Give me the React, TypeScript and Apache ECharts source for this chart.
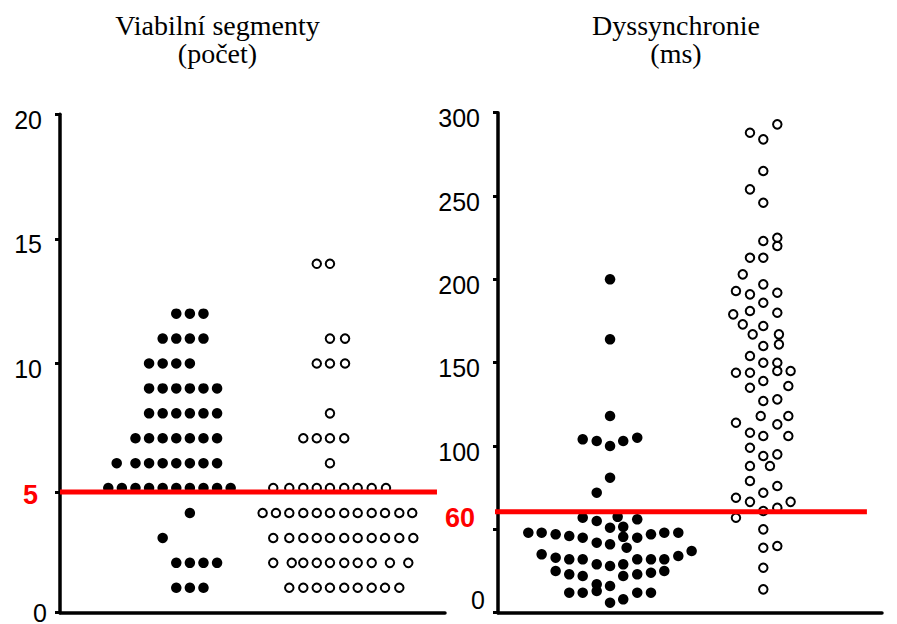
import React, { useEffect, useRef } from "react";
import * as echarts from "echarts";

// ---- data (x = horizontal jitter slot, y = value) ----
const leftTitle = "Viabilní segmenty\n(počet)";
const rightTitle = "Dyssynchronie\n(ms)";

const leftTicks = [0, 10, 15, 20];
const rightTicks = [0, 100, 150, 200, 250, 300];
const leftThreshold = 4.84;
const rightThreshold = 60.5;
const leftThresholdLabel = "5";
const rightThresholdLabel = "60";

const leftFilled: number[][] = [
  [8.55, 12], [9.55, 12], [10.55, 12],
  [7.55, 11], [8.55, 11], [9.55, 11], [10.55, 11],
  [6.55, 10], [7.55, 10], [8.55, 10], [9.55, 10],
  [6.55, 9], [7.55, 9], [8.55, 9], [9.55, 9], [10.55, 9], [11.55, 9],
  [6.55, 8], [7.55, 8], [8.55, 8], [9.55, 8], [10.55, 8], [11.55, 8],
  [5.55, 7], [6.55, 7], [7.55, 7], [8.55, 7], [9.55, 7], [10.55, 7], [11.55, 7],
  [4.17, 6], [5.55, 6], [6.55, 6], [7.55, 6], [8.55, 6], [9.55, 6], [10.55, 6], [11.55, 6],
  [3.55, 5], [4.55, 5], [5.55, 5], [6.55, 5], [7.55, 5], [8.55, 5], [9.55, 5], [10.55, 5], [11.55, 5], [12.55, 5],
  [9.55, 4],
  [7.55, 3],
  [8.55, 2], [9.55, 2], [10.55, 2], [11.55, 2],
  [8.55, 1], [9.55, 1], [10.55, 1],
];

const leftOpen: number[][] = [
  [18.88, 14], [19.85, 14],
  [19.85, 11], [20.96, 11],
  [18.88, 10], [19.85, 10], [20.96, 10],
  [19.85, 8],
  [17.89, 7], [18.88, 7], [19.85, 7], [20.9, 7],
  [19.85, 6],
  [15.68, 5], [16.86, 5], [17.89, 5], [18.88, 5], [19.85, 5], [20.9, 5], [21.89, 5], [22.92, 5], [23.97, 5],
  [14.9, 4], [15.88, 4], [16.86, 4], [17.89, 4], [18.88, 4], [19.85, 4], [20.9, 4], [21.89, 4], [22.92, 4], [23.9, 4], [24.95, 4], [25.9, 4],
  [15.68, 3], [16.86, 3], [17.89, 3], [18.88, 3], [19.85, 3], [20.9, 3], [21.89, 3], [22.92, 3], [23.9, 3], [24.95, 3], [25.98, 3],
  [15.68, 2], [17.04, 2], [17.89, 2], [18.88, 2], [19.85, 2], [20.9, 2], [21.89, 2], [22.92, 2], [24.26, 2], [25.61, 2],
  [16.86, 1], [17.89, 1], [18.88, 1], [19.85, 1], [20.9, 1], [21.89, 1], [22.92, 1], [23.9, 1], [24.95, 1],
];

const rightFilled: number[][] = [
  [8.24, 200], [8.24, 164], [8.24, 118],
  [6.23, 104], [7.26, 103], [8.24, 100], [9.21, 103], [10.24, 105],
  [8.24, 81], [7.26, 72],
  [6.23, 57], [7.26, 55], [8.8, 57.5], [10.24, 56],
  [8.24, 51], [9.21, 51.5],
  [2.23, 48], [3.21, 48], [4.24, 47], [5.24, 46], [6.23, 45], [9.21, 45.5], [10.24, 45], [11.25, 47], [12.23, 48], [13.26, 48],
  [7.26, 42], [8.24, 41], [9.46, 39],
  [3.21, 35], [4.24, 33], [5.24, 32], [6.23, 32], [7.26, 29], [8.24, 28], [9.21, 29], [10.24, 32], [11.25, 32], [12.23, 32], [13.26, 34], [14.24, 37],
  [4.24, 25], [5.24, 23], [6.23, 22], [9.21, 22], [10.24, 23], [11.25, 24], [12.23, 25],
  [7.26, 17], [8.24, 16],
  [5.24, 12], [6.23, 12], [7.26, 13], [10.24, 12], [11.25, 12],
  [8.24, 6], [9.21, 8],
];

const rightOpen: number[][] = [
  [20.54, 293], [18.53, 288], [19.51, 284],
  [19.51, 265], [18.53, 254], [19.51, 246],
  [19.51, 223], [20.54, 225], [20.54, 220],
  [18.53, 213], [19.51, 213],
  [18.0, 203],
  [19.51, 197], [17.5, 193], [18.53, 191], [20.54, 192],
  [19.51, 186], [18.53, 181], [17.3, 179], [20.54, 180],
  [18.0, 173], [19.51, 172], [18.73, 167], [20.66, 167],
  [19.51, 160], [20.66, 161],
  [18.53, 154], [19.51, 150], [20.54, 150],
  [17.5, 144], [18.53, 144], [20.54, 145], [21.52, 145],
  [19.51, 139], [18.53, 135], [21.35, 136],
  [19.51, 127], [20.54, 128],
  [19.32, 118], [21.35, 118], [17.5, 114], [20.54, 113],
  [18.53, 108], [19.51, 106], [21.35, 106],
  [18.53, 99], [19.51, 94], [20.54, 95],
  [18.53, 88], [20.0, 88],
  [18.53, 79], [19.51, 72], [20.54, 76],
  [17.5, 69], [18.53, 66.5], [21.52, 66.5], [20.54, 63], [19.51, 61],
  [17.5, 57],
  [19.51, 50], [19.51, 39], [20.54, 40], [19.51, 27], [19.51, 14],
];

// ---- layout ----
const LEFT_X_MAX = 28.31;
const RIGHT_X_MAX = 28.24;
const LEFT_LINE_X: number[] = [0, 27.72];
const RIGHT_LINE_X: number[] = [-0.59, 27.13];

const SANS = "Liberation Sans";
const SERIF = "Liberation Serif";

function labelCfg(zeroRich: any) {
  return {
    margin: 13,
    formatter: (v: number) => (v === 0 ? "{z|0}" : "{n|" + v + "}"),
    rich: {
      n: { fontSize: 25, fontFamily: SANS, color: "#000", padding: [11, 5, 0, 0] },
      z: { fontSize: 25, fontFamily: SANS, color: "#000", ...zeroRich },
    },
  };
}

const axisLine = { show: true, onZero: true, lineStyle: { color: "#000", width: 3.5 } };

export default function App() {
  const ref = useRef<HTMLDivElement>(null);
  useEffect(() => {
    if (!ref.current) return;
    const chart = echarts.init(ref.current, undefined, { renderer: "svg" });
    const filledStyle = { color: "#000", opacity: 1 };
    const openStyle = { color: "rgba(0,0,0,0)", borderColor: "#000", borderWidth: 2, opacity: 1 };
    const redLabel = (text: string, distance: number, dy: number) => ({
      show: true,
      position: "left",
      distance,
      offset: [0, dy],
      formatter: text,
      color: "#ff0000",
      fontSize: 27,
      fontWeight: "bold",
      fontFamily: SANS,
    });
    const titleStyle = { fontSize: 28, fontFamily: SERIF, lineHeight: 28.5, align: "center", verticalAlign: "top", fill: "#000" };
    chart.setOption({
      animation: false,
      backgroundColor: "#fff",
      grid: [
        { left: 60, top: 114.3, width: 385, height: 498.4, outerBoundsMode: "none", containLabel: false },
        { left: 498, top: 112.7, width: 384, height: 500, outerBoundsMode: "none", containLabel: false },
      ],
      xAxis: [
        { gridIndex: 0, type: "value", min: 0, max: LEFT_X_MAX, axisLine, axisTick: { show: false }, axisLabel: { show: false }, splitLine: { show: false } },
        { gridIndex: 1, type: "value", min: 0, max: RIGHT_X_MAX, axisLine, axisTick: { show: false }, axisLabel: { show: false }, splitLine: { show: false } },
      ],
      yAxis: [
        {
          gridIndex: 0, type: "value", min: 0, max: 20, interval: 5,
          axisLine,
          axisTick: { show: true, length: 5, lineStyle: { color: "#000", width: 3 }, customValues: [0, leftThreshold, 10, 15, 20] },
          axisLabel: { ...labelCfg({ lineHeight: 18, padding: [0, 0, 0, 0] }), customValues: leftTicks },
          splitLine: { show: false },
        },
        {
          gridIndex: 1, type: "value", min: 0, max: 300, interval: 50,
          axisLine,
          axisTick: { show: true, length: 5, lineStyle: { color: "#000", width: 3 } },
          axisLabel: { ...labelCfg({ padding: [0, 0, 26, 0] }), customValues: rightTicks },
          splitLine: { show: false },
        },
      ],
      graphic: [
        { type: "text", x: 217.5, y: 11, style: { text: leftTitle, ...titleStyle } },
        { type: "text", x: 676, y: 11, style: { text: rightTitle, ...titleStyle } },
      ],
      series: [
        { type: "scatter", xAxisIndex: 0, yAxisIndex: 0, data: leftFilled, symbol: "circle", symbolSize: 10.5, itemStyle: filledStyle, silent: true },
        { type: "scatter", xAxisIndex: 0, yAxisIndex: 0, data: leftOpen, symbol: "circle", symbolSize: 8.5, itemStyle: openStyle, silent: true },
        { type: "scatter", xAxisIndex: 1, yAxisIndex: 1, data: rightFilled, symbol: "circle", symbolSize: 10.5, itemStyle: filledStyle, silent: true },
        { type: "scatter", xAxisIndex: 1, yAxisIndex: 1, data: rightOpen, symbol: "circle", symbolSize: 8.5, itemStyle: openStyle, silent: true },
        {
          type: "line", xAxisIndex: 0, yAxisIndex: 0, z: 5, clip: false, symbol: "none", silent: true,
          data: LEFT_LINE_X.map((x) => [x, leftThreshold]),
          lineStyle: { color: "#ff0000", width: 5, opacity: 1 },
        },
        {
          type: "line", xAxisIndex: 1, yAxisIndex: 1, z: 5, clip: false, symbol: "none", silent: true,
          data: RIGHT_LINE_X.map((x) => [x, rightThreshold]),
          lineStyle: { color: "#ff0000", width: 5, opacity: 1 },
        },
        {
          type: "scatter", xAxisIndex: 0, yAxisIndex: 0, z: 6, clip: false, silent: true, symbolSize: 0.01,
          data: [[LEFT_LINE_X[0], leftThreshold]],
          itemStyle: { color: "rgba(0,0,0,0)", opacity: 1 },
          label: redLabel(leftThresholdLabel, 22, 3),
        },
        {
          type: "scatter", xAxisIndex: 1, yAxisIndex: 1, z: 6, clip: false, silent: true, symbolSize: 0.01,
          data: [[RIGHT_LINE_X[0], rightThreshold]],
          itemStyle: { color: "rgba(0,0,0,0)", opacity: 1 },
          label: redLabel(rightThresholdLabel, 15, 6),
        },
      ],
    });
    return () => chart.dispose();
  }, []);
  return <div ref={ref} style={{ position: "absolute", left: 0, top: 0, width: 897, height: 624 }} />;
}
